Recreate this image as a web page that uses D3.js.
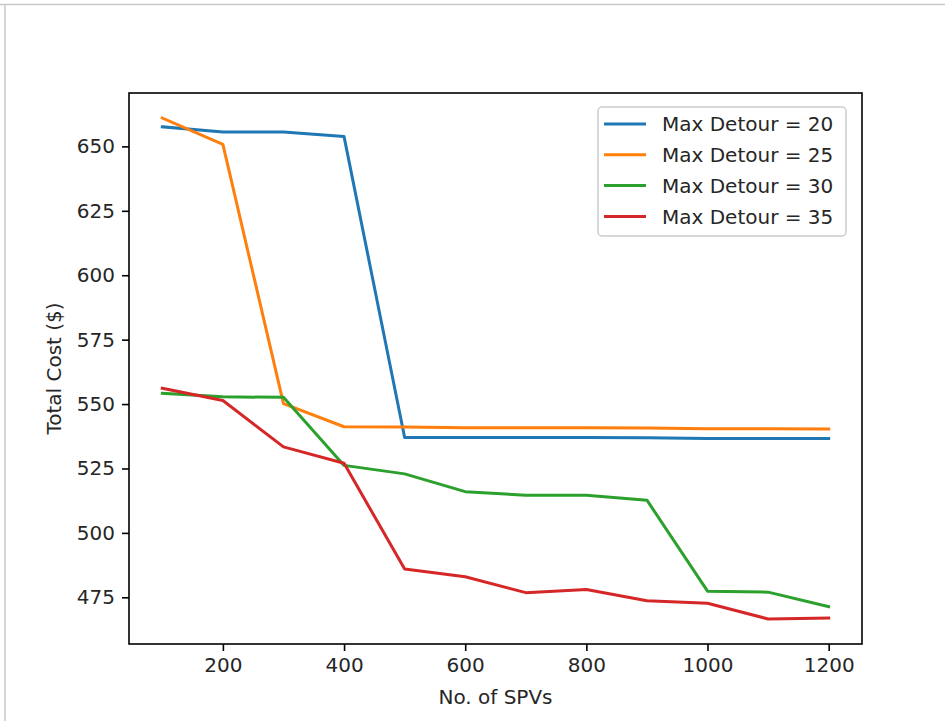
<!DOCTYPE html>
<html>
<head>
<meta charset="utf-8">
<script src="https://cdn.jsdelivr.net/npm/d3@7"></script>
<style>
  html, body { margin: 0; padding: 0; background: #fff; }
  svg { display: block; }
  text { font-family: "DejaVu Sans", sans-serif; fill: #262626; }
</style>
</head>
<body>
<svg id="chart" width="945" height="721"></svg>
<script>
// Number of SPVs on the x axis
const spvCounts = [100, 200, 300, 400, 500, 600, 700, 800, 900, 1000, 1100, 1200];

// Total cost for each maximum detour setting
const costDetour20 = [657.6, 655.6, 655.6, 653.8, 537.0, 537.0, 537.0, 537.0, 536.9, 536.6, 536.6, 536.6];
const costDetour25 = [661.0, 650.8, 550.2, 541.2, 541.1, 540.8, 540.8, 540.8, 540.7, 540.4, 540.4, 540.3];
const costDetour30 = [554.2, 552.8, 552.6, 526.2, 522.9, 516.0, 514.6, 514.6, 512.7, 477.4, 477.0, 471.4];
const costDetour35 = [556.1, 551.4, 533.4, 527.0, 486.0, 483.0, 476.8, 478.0, 473.7, 472.7, 466.6, 467.0];

const seriesLabels = ["Max Detour = 20", "Max Detour = 25", "Max Detour = 30", "Max Detour = 35"];
const seriesColors = ["#1f77b4", "#ff7f0e", "#2ca02c", "#d62728"];

const xTicks = [200, 400, 600, 800, 1000, 1200];
const yTicks = [475, 500, 525, 550, 575, 600, 625, 650];

const series = [costDetour20, costDetour25, costDetour30, costDetour35].map((vals, i) => ({
  label: seriesLabels[i],
  color: seriesColors[i],
  points: spvCounts.map((x, j) => ({ x, y: vals[j] }))
}));

const svg = d3.select("#chart");
const fontSize = 20;

// Page frame lines
svg.append("line").attr("x1", 0).attr("x2", 945).attr("y1", 4.5).attr("y2", 4.5)
  .attr("stroke", "#c8c8c8").attr("stroke-width", 1.5);
svg.append("line").attr("x1", 5).attr("x2", 5).attr("y1", 4).attr("y2", 721)
  .attr("stroke", "#c8c8c8").attr("stroke-width", 1.5);

const plot = { left: 129, right: 862, top: 93, bottom: 644 };

// Axis limits padded by 5% of the data range on each side
function padded(ext) {
  const r = ext[1] - ext[0];
  return [ext[0] - 0.05 * r, ext[1] + 0.05 * r];
}
const allY = series.flatMap(s => s.points.map(p => p.y));
const x = d3.scaleLinear().domain(padded(d3.extent(spvCounts))).range([plot.left, plot.right]);
const y = d3.scaleLinear().domain(padded(d3.extent(allY))).range([plot.bottom, plot.top]);

// Clip lines to the plotting area
svg.append("clipPath").attr("id", "plot-clip").append("rect")
  .attr("x", plot.left).attr("y", plot.top)
  .attr("width", plot.right - plot.left).attr("height", plot.bottom - plot.top);

const line = d3.line().x(d => x(d.x)).y(d => y(d.y));

svg.append("g").attr("clip-path", "url(#plot-clip)")
  .selectAll("path")
  .data(series)
  .join("path")
  .attr("d", d => line(d.points))
  .attr("fill", "none")
  .attr("stroke", d => d.color)
  .attr("stroke-width", 3)
  .attr("stroke-linejoin", "round")
  .attr("stroke-linecap", "square");

// Axes
const xAxis = svg.append("g")
  .attr("transform", `translate(0,${plot.bottom})`)
  .call(d3.axisBottom(x).tickValues(xTicks).tickFormat(d3.format("d")).tickSize(7).tickPadding(7));
const yAxis = svg.append("g")
  .attr("transform", `translate(${plot.left},0)`)
  .call(d3.axisLeft(y).tickValues(yTicks).tickFormat(d3.format("d")).tickSize(7).tickPadding(7));

[xAxis, yAxis].forEach(g => {
  g.select(".domain").remove();
  g.selectAll(".tick line").attr("stroke", "#000").attr("stroke-width", 1.6);
  g.selectAll(".tick text")
    .attr("fill", "#262626")
    .style("font-family", "'DejaVu Sans', sans-serif")
    .style("font-size", fontSize + "px");
});

// Plot frame
svg.append("rect")
  .attr("x", plot.left).attr("y", plot.top)
  .attr("width", plot.right - plot.left).attr("height", plot.bottom - plot.top)
  .attr("fill", "none").attr("stroke", "#000").attr("stroke-width", 1.6);

// Axis titles
svg.append("text")
  .attr("x", (plot.left + plot.right) / 2).attr("y", 704)
  .attr("text-anchor", "middle")
  .style("font-size", fontSize + "px")
  .text("No. of SPVs");

svg.append("text")
  .attr("transform", `translate(61,${(plot.top + plot.bottom) / 2}) rotate(-90)`)
  .attr("text-anchor", "middle")
  .style("font-size", fontSize + "px")
  .text("Total Cost ($)");

// Legend
const legend = svg.append("g").attr("transform", "translate(598,107)");
legend.append("rect")
  .attr("x", 0).attr("y", 0).attr("width", 248).attr("height", 129)
  .attr("rx", 4).attr("ry", 4)
  .attr("fill", "#fff").attr("fill-opacity", 0.8)
  .attr("stroke", "#cccccc").attr("stroke-width", 1.5);

const rows = legend.selectAll("g.row")
  .data(series)
  .join("g")
  .attr("class", "row")
  .attr("transform", (d, i) => `translate(0,${17 + i * 30.8})`);
rows.append("line")
  .attr("x1", 6).attr("x2", 48).attr("y1", 0).attr("y2", 0)
  .attr("stroke", d => d.color).attr("stroke-width", 3);
rows.append("text")
  .attr("x", 64).attr("y", 0).attr("dy", "0.36em")
  .style("font-size", fontSize + "px")
  .text(d => d.label);
</script>
</body>
</html>
